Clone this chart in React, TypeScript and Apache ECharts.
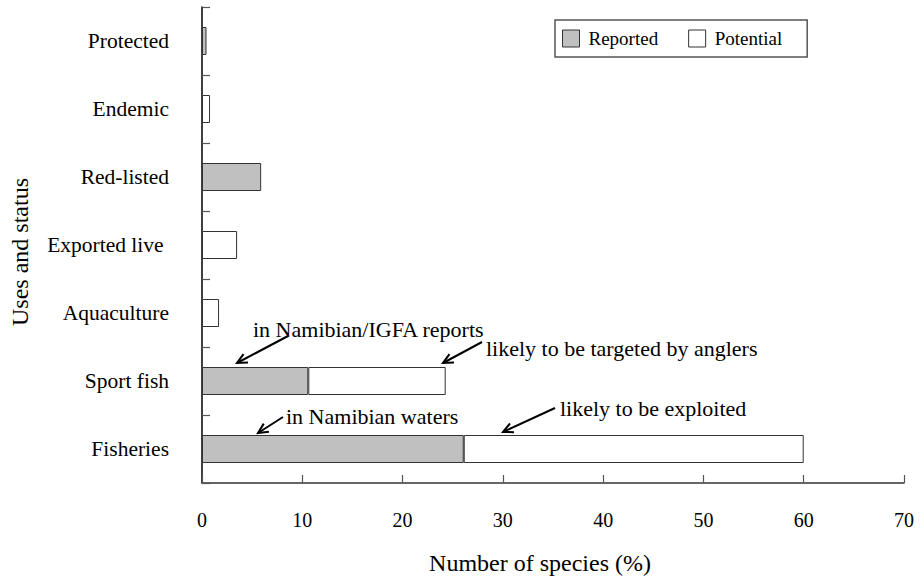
import React, { useEffect, useRef } from "react";
import * as echarts from "echarts";

const categories = ["Fisheries", "Sport fish", "Aquaculture", "Exported live ", "Red-listed", "Endemic", "Protected"];
const reported: (number | string)[] = [26.1, 10.6, "-", "-", 5.9, "-", 0.45];
const potential: (number | string)[] = [33.9, 13.7, 1.7, 3.5, "-", 0.8, "-"];
const xMin = 0;
const xMax = 70;
const xStep = 10;

const FONT = "Liberation Serif";

type Note = { text: string; tx: number; ty: number; from: [number, number]; to: [number, number] };
const notes: Note[] = [
  { text: "in Namibian/IGFA reports", tx: 253, ty: 329, from: [288, 336], to: [237, 363] },
  { text: "likely to be targeted by anglers", tx: 486, ty: 348, from: [482, 342], to: [443, 363] },
  { text: "in Namibian waters", tx: 286, ty: 416, from: [283, 417], to: [258, 433] },
  { text: "likely to be exploited", tx: 560, ty: 408, from: [555, 408], to: [503, 432] },
];

function arrow(n: Note) {
  const [x1, y1] = n.from;
  const [x2, y2] = n.to;
  const ang = Math.atan2(y1 - y2, x1 - x2);
  const L = 11;
  const a = 0.45;
  const h1 = [x2 + L * Math.cos(ang + a), y2 + L * Math.sin(ang + a)];
  const h2 = [x2 + L * Math.cos(ang - a), y2 + L * Math.sin(ang - a)];
  return [
    { type: "line", shape: { x1, y1, x2, y2 }, style: { stroke: "#000", lineWidth: 2 } },
    { type: "polyline", shape: { points: [h1, [x2, y2], h2] }, style: { stroke: "#000", lineWidth: 2, fill: null } },
    {
      type: "text",
      x: n.tx,
      y: n.ty,
      style: { text: n.text, fontFamily: FONT, fontSize: 22, fill: "#000", verticalAlign: "middle" },
    },
  ];
}

export default function App() {
  const ref = useRef<HTMLDivElement>(null);
  useEffect(() => {
    const chart = echarts.init(ref.current!, null, { renderer: "svg" });
    const graphics: any[] = [];
    notes.forEach((n) => graphics.push(...arrow(n)));
    chart.setOption({
      animation: false,
      backgroundColor: "#fff",
      textStyle: { fontFamily: FONT, color: "#000" },
      grid: { left: 198, right: 16, top: 7, bottom: 98, containLabel: false },
      legend: {
        left: 555,
        top: 20,
        orient: "horizontal",
        borderColor: "#555",
        borderWidth: 1.5,
        padding: [9, 25, 9, 7],
        itemWidth: 17,
        itemHeight: 17,
        itemGap: 30,
        icon: "rect",
        textStyle: { fontFamily: FONT, fontSize: 19, color: "#000", padding: [0, 0, 0, 4] },
        data: [
          { name: "Reported", itemStyle: { color: "#c0c0c0", borderColor: "#333", borderWidth: 1 } },
          { name: "Potential", itemStyle: { color: "#fff", borderColor: "#333", borderWidth: 1 } },
        ],
      },
      xAxis: {
        type: "value",
        min: xMin,
        max: xMax,
        interval: xStep,
        name: "Number of species (%)",
        nameLocation: "middle",
        nameGap: 68,
        nameTextStyle: { fontFamily: FONT, fontSize: 24, color: "#000", padding: [0, 26, 0, 0] },
        splitLine: { show: false },
        axisLine: { show: true, lineStyle: { color: "#333", width: 1.5 } },
        axisTick: { show: true, inside: true, length: 8, lineStyle: { color: "#555", width: 1.2 } },
        axisLabel: { margin: 27, fontFamily: FONT, fontSize: 20, color: "#000" },
      },
      yAxis: {
        type: "category",
        data: categories,
        name: "Uses and status",
        nameLocation: "middle",
        nameGap: 170,
        nameTextStyle: { fontFamily: FONT, fontSize: 24, color: "#000", padding: [0, 14, 0, 0] },
        axisLine: { show: true, lineStyle: { color: "#000", width: 1.5 } },
        axisTick: { show: true, inside: true, length: 8, lineStyle: { color: "#555", width: 1.2 } },
        axisLabel: { margin: 33, fontFamily: FONT, fontSize: 21.5, color: "#000" },
      },
      series: [
        {
          name: "Reported",
          type: "bar",
          stack: "total",
          barWidth: 28,
          data: reported,
          itemStyle: { color: "#c0c0c0", borderColor: "#333", borderWidth: 1 },
        },
        {
          name: "Potential",
          type: "bar",
          stack: "total",
          barWidth: 28,
          data: potential,
          itemStyle: { color: "#fff", borderColor: "#333", borderWidth: 1 },
        },
      ],
      graphic: graphics,
    });
    return () => chart.dispose();
  }, []);
  return <div ref={ref} style={{ position: "fixed", left: 0, top: 0, width: 920, height: 581 }} />;
}
